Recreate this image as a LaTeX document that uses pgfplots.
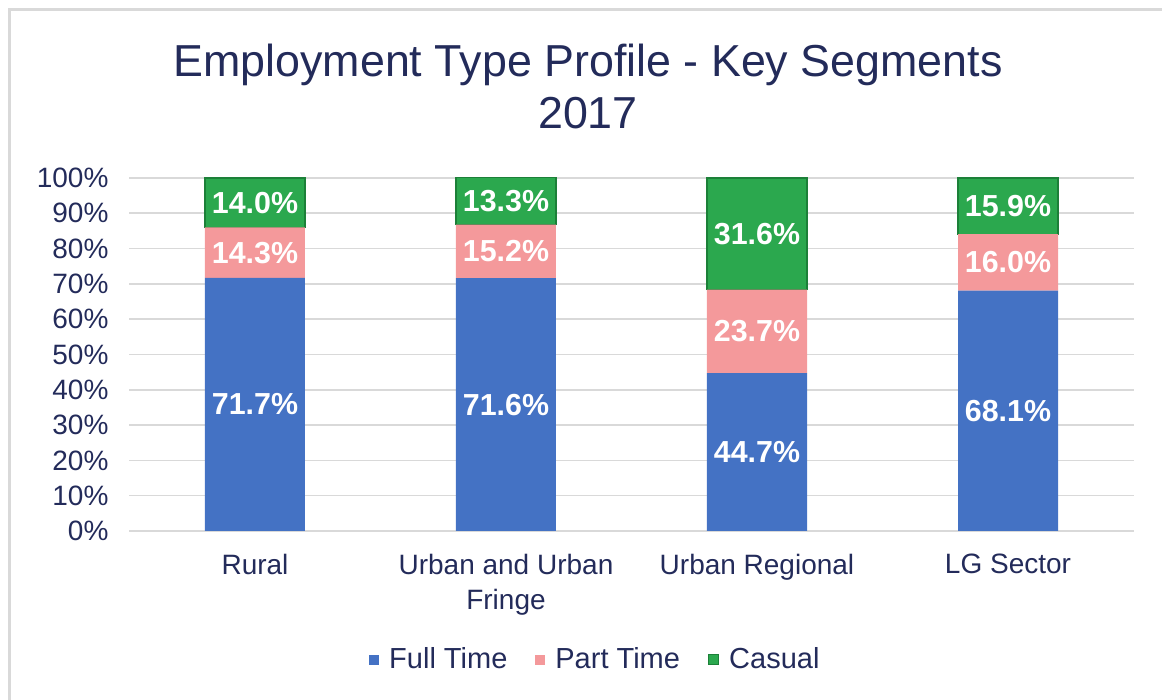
\documentclass[border=0pt]{standalone}
\usepackage{fontspec}
\setmainfont{Liberation Sans}
\usepackage{pgfplots}
\pgfplotsset{compat=1.18}
\definecolor{navy}{HTML}{232B5A}
\definecolor{fullc}{HTML}{4472C4}
\definecolor{partc}{HTML}{F4999B}
\definecolor{casc}{HTML}{2BA84E}
\definecolor{casdark}{HTML}{1C8038}
\definecolor{gridc}{HTML}{D9D9D9}
\begin{document}
\begin{tikzpicture}
\useasboundingbox (-64.75pt,-84.5pt) rectangle (516.25pt,265.5pt);
% chart frame (only top and left edges visible in the reference)
\draw[gridc, line width=1.5pt] (-59.75pt,-84.5pt) -- (-59.75pt,260.5pt) -- (516.25pt,260.5pt);
\node[navy, font=\fontsize{22.4}{26}\selectfont] at (229.25pt,233pt) {Employment Type Profile - Key Segments};
\node[navy, font=\fontsize{22.4}{26}\selectfont] at (229.25pt,209pt) {2017};
\begin{axis}[
  at={(0pt,0pt)}, anchor=south west,
  scale only axis, width=502pt, height=176.5pt,
  ybar stacked, bar width=50pt,
  xmin=-0.5, xmax=3.5, ymin=0, ymax=100,
  clip=false,
  xtick=data,
  xticklabels={Rural, Urban and Urban\\Fringe, Urban Regional, LG Sector},
  ytick={0,10,...,100},
  yticklabel={\pgfmathprintnumber{\tick}\%},
  /pgf/number format/assume math mode=true,
  axis line style={draw=none},
  major tick length=0pt,
  ymajorgrids, grid style={gridc, line width=0.8pt},
  tick label style={navy, font=\fontsize{14}{17.5}\selectfont},
  xticklabel style={align=center, yshift=-8pt},
  yticklabel style={xshift=-7pt},
  nodes near coords={\pgfmathprintnumber[fixed,fixed zerofill,precision=1]{\pgfplotspointmeta}\%},
  point meta=explicit,
  every node near coord/.append style={white, font=\fontsize{15.2}{17}\selectfont\bfseries,
    anchor=center},
  legend columns=3,
  legend style={at={(0.4650,-0.365)}, anchor=center, draw=none, fill=none,
    font=\fontsize{14.5}{17}\selectfont, text=navy,
    /tikz/every odd column/.append style={column sep=3pt},
    /tikz/every even column/.append style={column sep=12pt}},
  legend image code/.code={\fill[#1] (0pt,-2.5pt) rectangle (5pt,2.5pt);},
]
\addplot[fill=fullc, draw=none] coordinates {(0,71.7) [71.7] (1,71.6) [71.6] (2,44.7) [44.7] (3,68.1) [68.1]};
\addlegendentry{Full Time}
\addplot[fill=partc, draw=none] coordinates {(0,14.3) [14.3] (1,15.2) [15.2] (2,23.7) [23.7] (3,16.0) [16.0]};
\addlegendentry{Part Time}
\addplot[fill=casc, draw=casdark, line width=0.6pt] coordinates {(0,14.0) [14.0] (1,13.3) [13.3] (2,31.6) [31.6] (3,15.9) [15.9]};
\addlegendentry{Casual}
\end{axis}
\end{tikzpicture}
\end{document}
